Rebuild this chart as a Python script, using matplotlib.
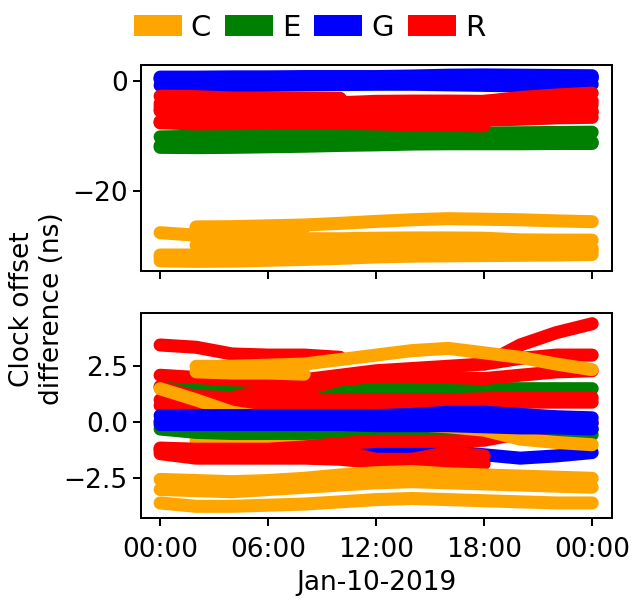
import numpy as np
import matplotlib
matplotlib.use("Agg")
import matplotlib.pyplot as plt
import matplotlib.dates as mdates
from matplotlib.patches import Patch
from datetime import datetime, timedelta

nan = np.nan

# epochs (hours after midnight, Jan-10-2019)
HOURS = [0, 2, 4, 6, 8, 10, 12, 14, 16, 18, 20, 22, 24]

# constellation mean clock offset (ns), added back for the upper panel
C_MEAN = [-29.05, -29.0, -28.95, -28.85, -28.75, -28.65, -28.5, -28.4, -28.3, -28.2, -28.1, -28.0, -27.9]
E_MEAN = [-11.75, -11.65, -11.55, -11.45, -11.35, -11.25, -11.15, -11.05, -11.0, -10.95, -10.9, -10.85, -10.8]
G_MEAN = [0.4, 0.4, 0.45, 0.45, 0.5, 0.5, 0.5, 0.55, 0.6, 0.65, 0.7, 0.75, 0.75]
R_MEAN = [-6.2, -6.2, -6.15, -6.1, -6.1, -6.05, -6.0, -6.05, -6.15, -6.3, -6.45, -6.55, -6.6]

# per satellite clock offset difference after removing the mean (ns)
C_SATS = [
    [nan, 2.5, 2.5, 2.55, 2.6, 2.8, 3.0, 3.2, 3.3, 3.1, 2.9, 2.6, 2.35],
    [nan, 2.25, 2.2, 2.2, 2.15, nan, nan, nan, nan, nan, nan, nan, nan],
    [1.5, 1.0, 0.45, 0.2, 0.1, 0.0, -0.05, -0.1, -0.2, -0.35, -0.75, -0.9, -1.0],
    [nan, -0.8, -0.85, -0.85, -0.85, -0.8, nan, nan, nan, nan, nan, nan, nan],
    [-2.55, -2.6, -2.65, -2.6, -2.5, -2.35, -2.25, -2.2, -2.3, -2.35, -2.4, -2.45, -2.5],
    [-3.0, -3.05, -3.1, -3.0, -2.9, -2.8, -2.7, -2.65, -2.7, -2.75, -2.8, -2.85, -2.9],
    [-3.6, -3.75, -3.75, -3.7, -3.65, -3.55, -3.45, -3.4, -3.45, -3.5, -3.55, -3.6, -3.6],
]
E_SATS = [
    [1.6, 1.6, 1.55, 1.5, 1.5, 1.5, 1.5, 1.55, 1.5, 1.5, 1.5, 1.5, 1.5],
    [-0.3, -0.45, -0.5, -0.5, -0.5, -0.45, -0.45, -0.4, -0.4, -0.45, -0.5, -0.5, -0.55],
    [0.0, -0.1, -0.2, -0.2, -0.2, -0.2, -0.2, -0.2, -0.2, -0.2, -0.25, -0.3, -0.3],
]
G_SATS = [
    [0.3, 0.3, 0.3, 0.3, 0.3, 0.3, 0.3, 0.35, 0.45, 0.45, 0.35, 0.25, 0.2],
    [0.05, 0.05, 0.1, 0.1, 0.1, 0.05, 0.0, 0.0, 0.0, 0.0, -0.05, -0.05, -0.05],
    [-0.1, -0.1, -0.1, -0.1, -0.1, -0.1, -0.15, -0.15, -0.15, -0.2, -0.25, -0.25, -0.3],
    [-1.2, -1.3, -1.3, -1.25, -1.2, -1.15, -1.1, -1.15, -1.3, -1.45, -1.6, -1.5, -1.35],
]
R_SATS = [
    [3.45, 3.35, 3.05, 3.0, 3.0, 2.9, nan, nan, nan, nan, nan, nan, nan],
    [nan, nan, nan, nan, nan, nan, nan, nan, nan, 2.6, 3.45, 4.0, 4.4],
    [2.1, 2.0, 1.9, 1.85, 1.9, 2.1, 2.3, 2.4, 2.5, 2.6, 2.85, 3.0, 3.0],
    [1.55, 1.15, 1.1, 1.45, 1.45, 1.9, 2.05, 2.05, 2.0, 1.95, 2.1, 2.25, 2.3],
    [0.75, 0.7, 0.7, 0.7, 0.75, 0.8, 0.85, 0.85, 0.85, 0.85, 0.9, 0.9, 0.9],
    [1.0, 0.95, 0.95, 0.95, 1.0, 1.0, 1.0, 1.0, 1.0, 1.05, 1.1, 1.1, 1.1],
    [-1.15, -1.2, -1.2, -1.2, -1.1, -0.95, -0.85, -0.85, -0.85, -0.8, -0.5, -0.15, 0.0],
    [-1.4, -1.6, -1.6, -1.6, -1.6, -1.65, -1.8, -1.9, -1.9, -1.85, nan, nan, nan],
    [-1.3, -1.35, -1.4, -1.4, -1.35, -1.3, -1.65, -1.65, -1.35, -1.5, nan, nan, nan],
]

LABELS = ["C", "E", "G", "R"]
COLORS = ["orange", "green", "blue", "red"]

# drawing layers, one per satellite line
C_Z = [4, 4, 4, 1.5, 4, 4, 4]
E_Z = [2, 2, 2]
G_Z = [5, 5, 5, 2.5]
R_Z = [3] * len(R_SATS)

base = datetime(2019, 1, 10)
times = [base + timedelta(hours=h) for h in HOURS]

plt.rcParams["font.family"] = "DejaVu Sans"
plt.rcParams["font.size"] = 19

fig = plt.figure(figsize=(6.34, 6.03), dpi=100)
ax1 = fig.add_axes([0.2224, 0.5506, 0.7429, 0.3416])
ax2 = fig.add_axes([0.2224, 0.1410, 0.7429, 0.3400], sharex=ax1)

groups = [(C_SATS, C_MEAN, C_Z), (E_SATS, E_MEAN, E_Z),
          (G_SATS, G_MEAN, G_Z), (R_SATS, R_MEAN, R_Z)]

for (sats, mean, zs), color in zip(groups, COLORS):
    for sat, z in zip(sats, zs):
        res = np.array(sat, dtype=float)
        # upper panel: raw offsets, lower panel: differences
        ax1.plot(times, res + np.array(mean), color=color, lw=9.4,
                 solid_capstyle="round", solid_joinstyle="round", zorder=z)
        ax2.plot(times, res, color=color, lw=9.4,
                 solid_capstyle="round", solid_joinstyle="round", zorder=z)

ax1.set_ylim(-34.5, 2.9)
ax1.set_yticks([-20, 0])
ax2.set_ylim(-4.27, 4.88)
ax2.set_yticks([-2.5, 0.0, 2.5])

ax2.set_xlim(base - timedelta(hours=1.06), base + timedelta(hours=25.1))
ax2.xaxis.set_major_locator(mdates.HourLocator(byhour=[0, 6, 12, 18]))
ax2.xaxis.set_major_formatter(mdates.DateFormatter("%H:%M"))
plt.setp(ax1.get_xticklabels(), visible=False)
ax2.set_xlabel("Jan-10-2019", labelpad=5)

for ax in (ax1, ax2):
    for sp in ax.spines.values():
        sp.set_linewidth(1.45)
    ax.tick_params(length=6, width=1.45, labelsize=19)
ax2.tick_params(axis="x", pad=8)

fig.text(0.058, 0.488, "Clock offset\ndifference (ns)", rotation=90,
         ha="center", va="center", fontsize=19, multialignment="center")

handles = [Patch(facecolor=c, edgecolor="none", label=l) for c, l in zip(COLORS, LABELS)]
fig.legend(handles=handles, loc="center", bbox_to_anchor=(0.488, 0.954), ncol=4,
           frameon=False, fontsize=21, handlelength=1.64, handleheight=0.75,
           handletextpad=0.31, columnspacing=0.48)

fig.savefig("out.png", dpi=100)
